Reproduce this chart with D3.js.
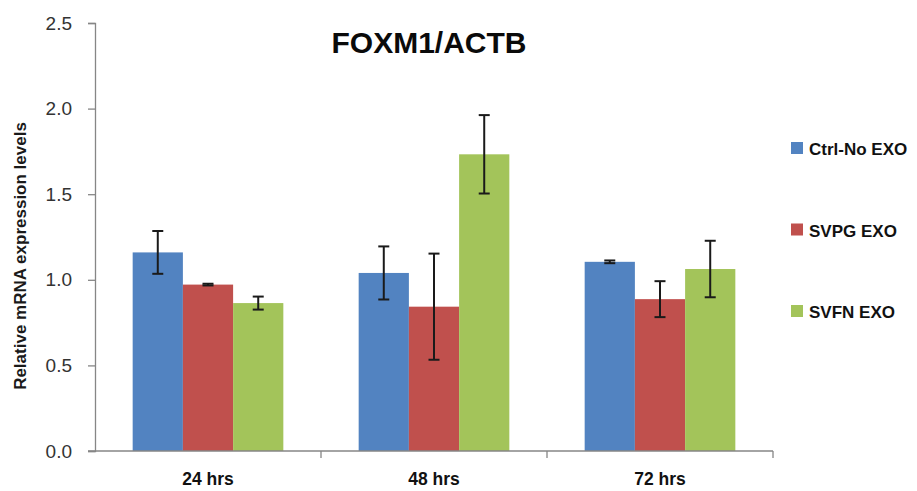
<!DOCTYPE html>
<html>
<head>
<meta charset="utf-8">
<script src="https://cdn.jsdelivr.net/npm/d3@7"></script>
<style>
  body { margin: 0; background: #fff; }
  text { font-family: Arial, "Liberation Sans", sans-serif; }
</style>
</head>
<body>
<div id="viz"></div>
<script>
// data
var groups = ["24 hrs", "48 hrs", "72 hrs"];
var seriesNames = ["Ctrl-No EXO", "SVPG EXO", "SVFN EXO"];
var seriesColors = ["#5283C1", "#C0504D", "#A3C45A"];
var ctrlValues = [1.16, 1.04, 1.105];
var svpgValues = [0.972, 0.843, 0.887];
var svfnValues = [0.864, 1.733, 1.063];
var ctrlErr = [0.125, 0.155, 0.008];
var svpgErr = [0.005, 0.31, 0.105];
var svfnErr = [0.038, 0.229, 0.165];
var yTicks = [0, 0.5, 1.0, 1.5, 2.0, 2.5];

// dimensions ("top" is taken by window.top, so use plot* names)
var width = 917, height = 491;
var plotLeft = 95, plotRight = 773, plotTop = 23, plotBottom = 451;

var svg = d3.select("#viz").append("svg")
    .attr("width", width)
    .attr("height", height);

var values = [ctrlValues, svpgValues, svfnValues];
var errs = [ctrlErr, svpgErr, svfnErr];

var rows = [];
groups.forEach(function(g, i) {
    seriesNames.forEach(function(s, j) {
        rows.push({ group: g, series: s, value: values[j][i], err: errs[j][i], color: seriesColors[j] });
    });
});

var x0 = d3.scaleBand().domain(groups).range([plotLeft, plotRight]).paddingInner(0).paddingOuter(0);
// excel-style gap width 50%: bars take 2/3 of each category
var x1 = d3.scaleBand().domain(seriesNames).range([0, x0.bandwidth()]).paddingOuter(0.75).paddingInner(0);
var y = d3.scaleLinear().domain([0, 2.5]).range([plotBottom, plotTop]);

// y axis
var yAxis = svg.append("g")
    .attr("transform", "translate(" + plotLeft + ",0)")
    .call(d3.axisLeft(y).tickValues(yTicks).tickFormat(d3.format(".1f")).tickSizeOuter(0).tickSize(7).tickPadding(16));
yAxis.select(".domain").attr("stroke", "#868686").attr("stroke-width", 1.3);
yAxis.selectAll(".tick line").attr("stroke", "#868686").attr("stroke-width", 1.3);
yAxis.selectAll(".tick text")
    .attr("font-size", 19)
    .attr("font-family", "'Open Sans', Arial, sans-serif")
    .attr("fill", "#333");

// bars
svg.selectAll("rect.bar")
    .data(rows)
    .enter()
    .append("rect")
    .attr("class", "bar")
    .attr("x", function(d) { return x0(d.group) + x1(d.series); })
    .attr("y", function(d) { return y(d.value); })
    .attr("width", x1.bandwidth())
    .attr("height", function(d) { return y(0) - y(d.value); })
    .attr("fill", function(d) { return d.color; });

// error bars
var eb = svg.selectAll("g.err")
    .data(rows)
    .enter()
    .append("g")
    .attr("class", "err")
    .attr("stroke", "#1a1a1a")
    .attr("stroke-width", 2);
function cx(d) { return x0(d.group) + x1(d.series) + x1.bandwidth() / 2; }
eb.append("line")
    .attr("x1", cx).attr("x2", cx)
    .attr("y1", function(d) { return y(d.value + d.err); })
    .attr("y2", function(d) { return y(d.value - d.err); });
eb.append("line")
    .attr("x1", function(d) { return cx(d) - 5.5; }).attr("x2", function(d) { return cx(d) + 5.5; })
    .attr("y1", function(d) { return y(d.value + d.err); })
    .attr("y2", function(d) { return y(d.value + d.err); });
eb.append("line")
    .attr("x1", function(d) { return cx(d) - 5.5; }).attr("x2", function(d) { return cx(d) + 5.5; })
    .attr("y1", function(d) { return y(d.value - d.err); })
    .attr("y2", function(d) { return y(d.value - d.err); });

// x axis line and boundary ticks
var xg = svg.append("g");
xg.append("line")
    .attr("x1", plotLeft - 7).attr("x2", plotRight)
    .attr("y1", plotBottom).attr("y2", plotBottom)
    .attr("stroke", "#868686").attr("stroke-width", 1.5);
xg.selectAll("line.bt")
    .data(groups.slice(1).concat(["end"]))
    .enter()
    .append("line")
    .attr("class", "bt")
    .attr("x1", function(d) { return d === "end" ? plotRight : x0(d); })
    .attr("x2", function(d) { return d === "end" ? plotRight : x0(d); })
    .attr("y1", plotBottom).attr("y2", plotBottom + 7)
    .attr("stroke", "#868686").attr("stroke-width", 1.3);
xg.selectAll("text")
    .data(groups)
    .enter()
    .append("text")
    .attr("x", function(d) { return x0(d) + x0.bandwidth() / 2; })
    .attr("y", plotBottom + 34)
    .attr("text-anchor", "middle")
    .attr("font-size", 17.5)
    .attr("font-weight", "bold")
    .attr("fill", "#111")
    .text(function(d) { return d; });

// title
svg.append("text")
    .attr("x", 429).attr("y", 53)
    .attr("text-anchor", "middle")
    .attr("font-size", 30)
    .attr("font-weight", "bold")
    .attr("fill", "#0a0a0a")
    .text("FOXM1/ACTB");

// y label
svg.append("text")
    .attr("transform", "translate(26,256) rotate(-90)")
    .attr("text-anchor", "middle")
    .attr("font-size", 17)
    .attr("font-weight", "bold")
    .attr("fill", "#1a1a1a")
    .text("Relative mRNA expression levels");

// legend
var legend = svg.selectAll("g.leg")
    .data(seriesNames)
    .enter()
    .append("g")
    .attr("class", "leg")
    .attr("transform", function(d, i) { return "translate(791," + (155 + i * 81.5) + ")"; });
legend.append("rect")
    .attr("x", 0).attr("y", -13)
    .attr("width", 12).attr("height", 12)
    .attr("fill", function(d, i) { return seriesColors[i]; });
legend.append("text")
    .attr("x", 18).attr("y", 0)
    .attr("font-size", 17)
    .attr("font-weight", "bold")
    .attr("fill", "#111")
    .text(function(d) { return d; });
</script>
</body>
</html>
